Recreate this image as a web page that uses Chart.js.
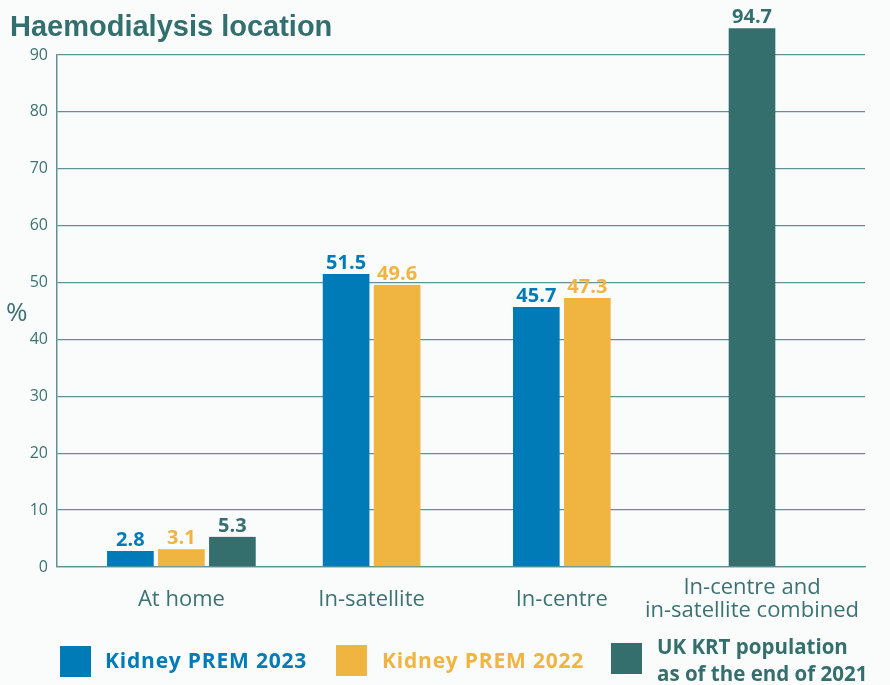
<!DOCTYPE html>
<html>
<head>
<meta charset="utf-8">
<script src="https://cdn.jsdelivr.net/npm/chart.js@4/dist/chart.umd.min.js"></script>
<style>
html,body{margin:0;padding:0;background:#fafcfc;}
#wrap{position:relative;width:890px;height:685px;overflow:hidden;font-family:"Open Sans",sans-serif;}
#c{position:absolute;left:0;top:0;}
.title{position:absolute;left:10px;top:12px;font-weight:bold;font-size:29px;line-height:29px;font-family:"Liberation Sans",Arial,sans-serif;color:#336f6e;white-space:nowrap;}
.ylab{position:absolute;left:6px;top:298px;font-size:26px;line-height:26px;color:#3d7274;}
.sq{position:absolute;width:31px;height:31px;}
.lg{position:absolute;font-weight:bold;font-size:21px;line-height:21px;letter-spacing:0.8px;white-space:nowrap;}
</style>
</head>
<body>
<div id="wrap">
  <canvas id="c" width="890" height="685"></canvas>
  <div class="title">Haemodialysis location</div>
  <div class="ylab">%</div>
  <div class="sq" style="left:60px;top:646px;background:#007bb8"></div>
  <div class="lg" style="left:105px;top:650px;color:#007bb8">Kidney PREM 2023</div>
  <div class="sq" style="left:336px;top:645px;background:#f0b441"></div>
  <div class="lg" style="left:382px;top:650px;color:#f0b441">Kidney PREM 2022</div>
  <div class="sq" style="left:611px;top:643px;background:#346f6e"></div>
  <div class="lg" style="left:657px;top:633px;line-height:27px;font-size:20.5px;letter-spacing:0;color:#346f6e">UK KRT population<br>as of the end of 2021</div>
</div>
<script>
// ---- data ----
const categories = ["At home", "In-satellite", "In-centre", ["In-centre and", "in-satellite combined"]];
const seriesNames = ["Kidney PREM 2023", "Kidney PREM 2022", "UK KRT population as of the end of 2021"];
const prem2023 = [2.8, 51.5, 45.7, null];
const prem2022 = [3.1, 49.6, 47.3, null];
const ukKrt2021 = [5.3, null, null, 94.7];
const yTicks = [0, 10, 20, 30, 40, 50, 60, 70, 80, 90];

// ---- style ----
const BLUE = "#007bb8", YELLOW = "#f0b441", TEAL = "#346f6e";
const TEXT = "#3d7274", GRID = "#5f9294";

const barStyle = (color) => ({
  backgroundColor: color,
  borderColor: "rgba(0,0,0,0)",
  borderWidth: {left: 2.5, right: 2.5, top: 0, bottom: 0},
  borderSkipped: false,
  barThickness: 51,
  skipNull: true,
  clip: false
});

// category positioning within plot area (scale configuration)
const CAT_START = -0.654, CAT_RANGE = 4.248;
const catPlugin = {
  id: "catPos",
  afterLayout(chart) {
    const x = chart.scales.x;
    x._startValue = CAT_START;
    x._valueRange = CAT_RANGE;
  }
};

const valueLabels = {
  id: "valueLabels",
  afterDatasetsDraw(chart) {
    const ctx = chart.ctx;
    ctx.save();
    ctx.font = "bold 20px 'Open Sans'";
    ctx.textAlign = "center";
    ctx.textBaseline = "alphabetic";
    chart.data.datasets.forEach((ds, i) => {
      const meta = chart.getDatasetMeta(i);
      meta.data.forEach((el, j) => {
        const v = ds.data[j];
        if (v === null || v === undefined) return;
        ctx.fillStyle = ds.labelColor;
        ctx.fillText(v.toFixed(1), el.x, el.y - 5);
      });
    });
    ctx.restore();
  }
};

new Chart(document.getElementById("c"), {
  type: "bar",
  data: {
    labels: categories,
    datasets: [
      Object.assign({label: seriesNames[0], data: prem2023, labelColor: BLUE}, barStyle(BLUE)),
      Object.assign({label: seriesNames[1], data: prem2022, labelColor: YELLOW}, barStyle(YELLOW)),
      Object.assign({label: seriesNames[2], data: ukKrt2021, labelColor: TEAL}, barStyle(TEAL))
    ]
  },
  options: {
    responsive: false,
    devicePixelRatio: 1,
    animation: false,
    layout: {padding: {top: 55, right: 25, left: 0, bottom: 0}},
    plugins: {legend: {display: false}, tooltip: {enabled: false}, title: {display: false}},
    scales: {
      x: {
        grid: {display: false, drawTicks: false},
        border: {display: true, color: GRID, width: 1.3},
        ticks: {
          color: TEXT,
          font: {family: "'Open Sans'", size: 22, lineHeight: 1.05},
          padding: 21,
          maxRotation: 0,
          autoSkip: false,
          crossAlign: "center"
        },
        afterFit(s) { s.height = 118; s.paddingLeft = 0; s.paddingRight = 0; }
      },
      y: {
        min: 0,
        max: 90,
        afterBuildTicks(s) { s.ticks = yTicks.map(v => ({value: v})); },
        grid: {color: GRID, lineWidth: 1.3, drawTicks: false},
        border: {display: true, color: GRID, width: 1.5},
        ticks: {
          color: TEXT,
          font: {family: "'Open Sans'", size: 16},
          padding: 9
        },
        afterFit(s) { s.width = 57; s.paddingTop = 0; s.paddingBottom = 0; }
      }
    }
  },
  plugins: [catPlugin, valueLabels]
});
</script>
</body>
</html>
